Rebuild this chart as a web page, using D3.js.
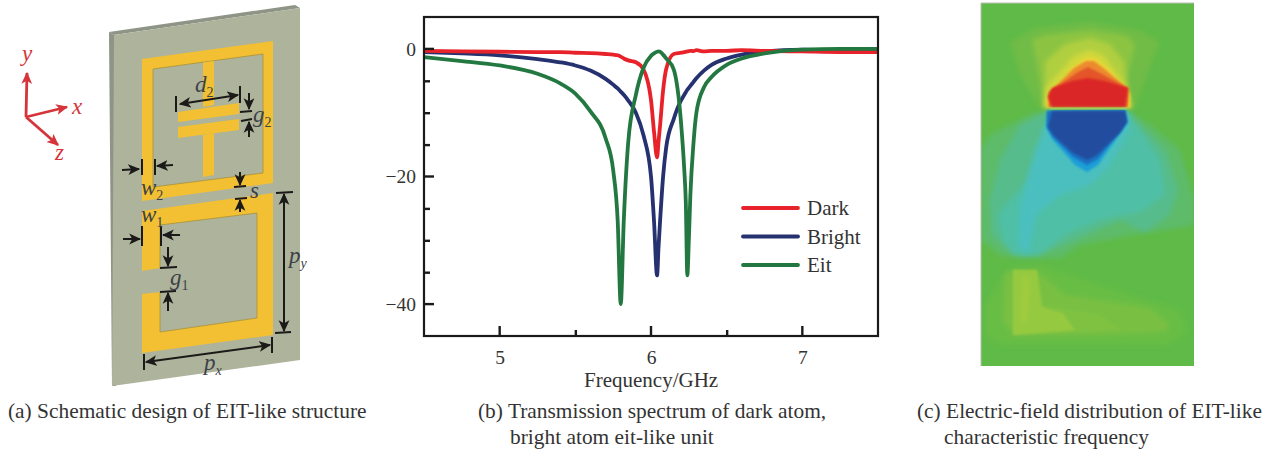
<!DOCTYPE html>
<html>
<head>
<meta charset="utf-8">
<script src="https://cdn.jsdelivr.net/npm/d3@7"></script>
<style>
  html, body { margin: 0; padding: 0; background: #fff; }
  svg { display: block; }
  text { font-family: "Liberation Serif", serif; fill: #333; }
</style>
</head>
<body>
<div id="chart"></div>
<script>
// spectrum values
const FREQ = [4.5,4.75,5,5.25,5.4,5.5,5.6,5.7,5.75,5.78,5.8,5.82,5.85,5.9,5.95,6,6.02,6.04,6.05,6.06,6.08,6.1,6.15,6.2,6.22,6.23,6.24,6.25,6.26,6.28,6.3,6.35,6.4,6.5,6.6,6.75,7,7.25,7.5]
const DARK = [-0.3,-0.4,-0.45,-0.5,-0.5,-0.6,-0.65,-0.8,-0.9,-1,-1.2,-1.5,-1.8,-2.1,-3.2,-8,-13,-17,-14.5,-12,-6.5,-3.2,-0.8,-0.6,-0.5,-0.45,-0.4,-0.35,-0.3,-0.35,-0.2,-0.4,-0.3,-0.3,-0.2,-0.3,-0.4,-0.5,-0.5]
const BRIGHT = [-0.5,-0.7,-1,-1.6,-2.1,-2.6,-3.4,-4.7,-5.6,-6.2,-6.7,-7.2,-8.1,-10,-13.5,-20,-27,-35.5,-31,-27,-20,-15.5,-11,-8,-7.2,-6.8,-6.4,-6.1,-5.8,-5.2,-4.6,-3.4,-2.5,-1.5,-0.9,-0.4,-0.1,-0.2,-0.2]
const EIT = [-1.3,-1.9,-2.6,-3.9,-5.4,-7,-9.8,-14,-19,-27,-40,-27,-14.5,-7.2,-3,-1.1,-0.7,-0.45,-0.4,-0.45,-0.9,-1.5,-3.2,-12,-19,-24,-35.5,-30,-23,-15,-10,-6,-4.4,-2.5,-1.5,-0.7,-0.1,0,0]

const LEGEND = ["Dark", "Bright", "Eit"]
const COLORS = { Dark: "#e8232a", Bright: "#27306f", Eit: "#23783f" }
const VALUES = { Dark: DARK, Bright: BRIGHT, Eit: EIT }
const DRAW_ORDER = ["Bright", "Dark", "Eit"]

const X_MAJOR = [5, 6, 7]
const X_MINOR = [5.5, 6.5]
const Y_MAJOR = [0, -20, -40]
const Y_MINOR = [-5, -10, -15, -25, -30, -35]

const width = 1278, height = 450
const margin = { top: 17, right: 400, bottom: 114, left: 424 }
const innerW = width - margin.left - margin.right
const innerH = height - margin.top - margin.bottom

const svg = d3.select("#chart").append("svg")
  .attr("width", width)
  .attr("height", height)
  .attr("viewBox", `0 0 ${width} ${height}`)

const defs = svg.append("defs")
function blur(id, amount) {
  defs.append("filter").attr("id", id)
    .attr("x", "-20%").attr("y", "-20%").attr("width", "140%").attr("height", "140%")
    .append("feGaussianBlur").attr("stdDeviation", amount)
}
blur("soft", 0.5)
blur("core", 0.9)
blur("wide", 2.6)
defs.append("clipPath").attr("id", "field")
  .append("rect").attr("x", 981).attr("y", 3).attr("width", 213).attr("height", 363)

function head(id, color) {
  defs.append("marker")
    .attr("id", id)
    .attr("viewBox", "0 0 10 10")
    .attr("refX", 9).attr("refY", 5)
    .attr("markerUnits", "userSpaceOnUse")
    .attr("markerWidth", 12).attr("markerHeight", 12)
    .attr("orient", "auto-start-reverse")
    .append("path").attr("d", "M0,0.5L10,5L0,9.5L2.5,5Z").attr("fill", color)
}
head("arrow-black", "#1c1a18")
head("arrow-red", "#d5343a")

const poly = d3.line()

// ---------- panel (a): schematic ----------
const schem = svg.append("g").attr("class", "schematic")
const art = schem.append("g").attr("filter", "url(#soft)")

function shape(pts, fill, stroke) {
  art.append("path")
    .attr("d", poly(pts) + "Z")
    .attr("fill", fill)
    .attr("stroke", stroke || "none")
    .attr("stroke-width", stroke ? 0.8 : 0)
}

const FACE = "#aeb39c", GOLD = "#f2c030", EDGE = "#a8923a"
shape([[109,32],[295,5],[300,8],[114,35]], "#8e9486")
shape([[109,32],[114,35],[116,386],[112,386]], "#8e9486")
shape([[114,35],[300,8],[300,360],[112,386]], FACE)

// upper ring with capacitor
shape([[142,59],[273,41],[273,183],[142,201]], GOLD)
shape([[153,69],[263,54],[263,173],[153,187]], FACE, EDGE)
shape([[203,62.5],[214,61],[214,105],[203,107]], GOLD)
shape([[203,135],[214,133],[214,175],[203,177]], GOLD)
shape([[178,112],[239,103],[239,114],[178,122]], GOLD)
shape([[178,127],[239,119],[239,130],[178,138]], GOLD)

// lower split ring
shape([[142,211],[273,193],[273,335],[142,353]], GOLD)
shape([[160,225],[257,213],[257,318],[160,332]], FACE, EDGE)
shape([[141,271],[161,268],[161,292],[141,294]], FACE)

const dims = schem.append("g")
function bar(x1, y1, x2, y2) {
  dims.append("line")
    .attr("x1", x1).attr("y1", y1).attr("x2", x2).attr("y2", y2)
    .attr("stroke", "#1c1a18").attr("stroke-width", 2)
}
function arrow(x1, y1, x2, y2, both) {
  const l = dims.append("line")
    .attr("x1", x1).attr("y1", y1).attr("x2", x2).attr("y2", y2)
    .attr("stroke", "#1c1a18").attr("stroke-width", 2)
    .attr("marker-end", "url(#arrow-black)")
  if (both) l.attr("marker-start", "url(#arrow-black)")
}
function sym(x, y, main, sub) {
  const t = dims.append("text")
    .attr("x", x).attr("y", y)
    .attr("font-size", 23)
    .attr("font-style", "italic")
    .style("fill", "#3c4148")
    .text(main)
  if (sub) {
    t.append("tspan")
      .attr("dy", 5).attr("font-size", 14)
      .attr("font-style", /\d/.test(sub) ? "normal" : "italic")
      .text(sub)
  }
}

bar(176,96,176,112); bar(240,86,240,103)
arrow(180,104,238,95,true)
sym(195,92,"d","2")
bar(240,112,252,111); bar(241,121,252,119)
arrow(249,93,249,109); arrow(249,137,249,122)
sym(253,122,"g","2")
bar(142,159,142,175); bar(155,159,155,175)
arrow(122,170,139,169); arrow(173,165,157,166)
sym(141,195,"w","2")
bar(234,187,246,186); bar(235,199,247,198)
arrow(240,172,240,185); arrow(240,212,240,200)
sym(250,198,"s")
bar(276,193,293,192); bar(275,333,291,332)
arrow(284,194,284,331,true)
sym(289,263,"p","y")
bar(142,226,142,246); bar(161,226,161,246)
sym(141,222,"w","1")
arrow(123,239,140,239); arrow(180,235,163,235)
bar(160,268,177,267); bar(160,292,176,291)
arrow(168,247,168,266); arrow(168,311,168,293)
sym(170,285,"g","1")
bar(144,354,144,370); bar(272,337,272,353)
arrow(146,362,270,345,true)
sym(204,370,"p","x")

// red coordinate triad
const triad = schem.append("g")
;[[26,117,27,73],[26,117,67,107],[26,117,58,145]].forEach(p => {
  triad.append("line")
    .attr("x1", p[0]).attr("y1", p[1]).attr("x2", p[2]).attr("y2", p[3])
    .attr("stroke", "#d5343a").attr("stroke-width", 2.8)
    .attr("marker-end", "url(#arrow-red)")
})
;[["y",22,61],["x",72,114],["z",55,160]].forEach(d => {
  triad.append("text")
    .attr("x", d[1]).attr("y", d[2])
    .attr("font-size", 23).attr("font-style", "italic")
    .style("fill", "#d5343a")
    .text(d[0])
})

// ---------- panel (b): spectrum ----------
const xScale = d3.scaleLinear().domain([4.5, 7.5]).range([0, innerW])
const yScale = d3.scaleLinear().domain([5, -45]).range([0, innerH])

const plot = svg.append("g")
  .attr("transform", `translate(${margin.left},${margin.top})`)

const lineGen = d3.line()
  .x(d => xScale(d[0]))
  .y(d => yScale(d[1]))
  .curve(d3.curveMonotoneX)

const lines = plot.append("g").attr("filter", "url(#soft)")
DRAW_ORDER.forEach(name => {
  lines.append("path")
    .attr("d", lineGen(FREQ.map((f, i) => [f, VALUES[name][i]])))
    .attr("fill", "none")
    .attr("stroke", COLORS[name])
    .attr("stroke-width", 3.8)
    .attr("stroke-linejoin", "round")
})

function styleAxis(g) {
  g.select(".domain").remove()
  g.selectAll("line").attr("stroke", "#1a1a1a").attr("stroke-width", 2.4)
  g.selectAll("text").attr("font-size", 19.5).style("fill", "#333")
}

plot.append("g")
  .attr("transform", `translate(0,${innerH})`)
  .call(d3.axisBottom(xScale).tickValues(X_MAJOR).tickSize(0).tickPadding(14).tickFormat(d3.format("d")))
  .call(styleAxis)
plot.append("g")
  .attr("transform", `translate(0,${innerH})`)
  .call(d3.axisBottom(xScale).tickValues(X_MINOR).tickSize(-6).tickFormat(""))
  .call(styleAxis)
plot.append("g")
  .call(d3.axisLeft(yScale).tickValues(Y_MAJOR).tickSize(0).tickPadding(8).tickFormat(d => d < 0 ? "\u2212" + (-d) : d))
  .call(styleAxis)
plot.append("g")
  .call(d3.axisLeft(yScale).tickValues(Y_MINOR).tickSize(-6).tickFormat(""))
  .call(styleAxis)

// long ticks at the labelled values
const majorTicks = plot.append("g").attr("stroke", "#1a1a1a").attr("stroke-width", 2.4)
X_MAJOR.forEach(v => {
  majorTicks.append("line")
    .attr("x1", xScale(v)).attr("x2", xScale(v))
    .attr("y1", innerH).attr("y2", innerH - 10)
})
Y_MAJOR.forEach(v => {
  majorTicks.append("line")
    .attr("x1", 0).attr("x2", 10)
    .attr("y1", yScale(v)).attr("y2", yScale(v))
})

plot.append("rect")
  .attr("width", innerW).attr("height", innerH)
  .attr("fill", "none")
  .attr("stroke", "#1a1a1a").attr("stroke-width", 2.2)

const legendY = d3.scalePoint().domain(LEGEND).range([191, 248])
const legend = plot.append("g")
const legendLines = legend.append("g").attr("filter", "url(#soft)")
LEGEND.forEach(name => {
  legendLines.append("line")
    .attr("x1", 319).attr("x2", 374)
    .attr("y1", legendY(name)).attr("y2", legendY(name))
    .attr("stroke", COLORS[name]).attr("stroke-width", 3.8)
    .attr("stroke-linecap", "round")
  legend.append("text")
    .attr("x", 383).attr("y", legendY(name) + 7)
    .attr("font-size", 21)
    .text(name)
})

plot.append("text")
  .attr("x", 160).attr("y", 370)
  .attr("font-size", 21)
  .text("Frequency/GHz")

// ---------- panel (c): field map, drawn as stacked contour bands ----------
const BANDS = [
  ["#6fbc46", "wide", [[1010,42],[1035,28],[1090,22],[1140,30],[1160,42],[1145,80],[1135,108],[1040,108],[1020,75]]],
  ["#8cc443", "wide", [[1032,40],[1045,35],[1090,30],[1128,36],[1135,45],[1125,85],[1125,108],[1045,108],[1040,80]]],
  ["#b0cf3f", "wide", [[1045,62],[1065,44],[1090,38],[1110,44],[1124,62],[1130,108],[1045,108]]],
  ["#d3d83a", "wide", [[1046,88],[1074,56],[1090,50],[1104,56],[1126,86],[1132,108],[1044,108]]],
  ["#ecd535", "core", [[1047,100],[1072,68],[1085,58],[1095,58],[1110,70],[1130,94],[1130,108],[1047,108]]],
  ["#ec8b2e", "core", [[1048,94],[1074,68],[1086,61],[1094,61],[1106,70],[1129,90],[1128,107],[1048,107]]],
  ["#e4542a", "core", [[1049,92],[1078,72],[1088,67],[1098,72],[1128,88],[1127,107],[1050,107]]],
  ["#da2727", "core", [[1052,88],[1048,97],[1052,107],[1125,107],[1128,88],[1105,81],[1088,78],[1072,81]]],

  ["#5dbb6a", "wide", [[1047,110],[1030,115],[990,135],[981,150],[981,240],[1000,255],[1020,258],[1060,258],[1080,245],[1130,235],[1165,230],[1194,225],[1194,200],[1180,150],[1150,125],[1128,110]]],
  ["#57bc8c", "wide", [[1047,112],[1020,125],[1000,160],[990,200],[992,235],[1010,252],[1025,255],[1050,250],[1075,240],[1120,220],[1145,232],[1170,215],[1178,190],[1165,150],[1140,125],[1128,112]]],
  ["#4fbfa6", "wide", [[1050,120],[1035,150],[1028,180],[1010,200],[998,215],[1003,240],[1015,255],[1040,255],[1065,235],[1100,220],[1140,212],[1150,205],[1165,195],[1160,160],[1140,130],[1128,115]]],
  ["#4cbfbf", "wide", [[1045,125],[1030,170],[1020,205],[1018,245],[1028,255],[1036,215],[1060,195],[1090,185],[1110,165],[1130,130],[1128,112]]],
  ["#1f9ed8", "core", [[1047,111],[1046,127],[1053,140],[1075,165],[1087,172],[1098,165],[1128,122],[1125,110]]],
  ["#1f6fc0", "core", [[1047,111],[1047,127],[1053,137],[1073,157],[1087,165],[1098,159],[1127,122],[1125,110]]],
  ["#234e9f", "core", [[1052,111],[1125,111],[1127,122],[1120,133],[1097,155],[1087,160],[1073,153],[1053,135],[1048,127]]],

  ["#67bd45", "wide", [[1000,280],[985,305],[985,335],[1000,345],[1100,345],[1170,345],[1188,330],[1180,310],[1130,295],[1070,275],[1040,265],[1010,268]]],
  ["#79c043", "wide", [[1005,272],[1003,320],[1012,335],[1100,335],[1165,332],[1170,325],[1150,308],[1100,300],[1065,295],[1042,275]]],
  ["#7fc242", "core", [[1013,270],[1037,270],[1042,305],[1100,315],[1122,330],[1013,335]]],
  ["#95c941", "core", [[1013,270],[1037,270],[1042,307],[1063,313],[1075,330],[1013,335]]],
  ["#a1cc3e", "wide", [[1023,277],[1030,277],[1027,320],[1020,323]]]
]

const map = svg.append("g").attr("clip-path", "url(#field)")
map.append("rect")
  .attr("x", 975).attr("y", 0).attr("width", 225).attr("height", 370)
  .attr("fill", "#5fba47")
BANDS.forEach(b => {
  map.append("path")
    .attr("d", poly(b[2]) + "Z")
    .attr("fill", b[0])
    .attr("filter", `url(#${b[1]})`)
})
map.append("rect")
  .attr("x", 1050).attr("y", 107.5).attr("width", 77).attr("height", 2)
  .attr("fill", "#9ccf5a")
svg.append("path")
  .attr("d", "M981,366V3H1194")
  .attr("fill", "none").attr("stroke", "#b9bfb6").attr("stroke-width", 1)

// ---------- captions ----------
const CAPTIONS = [
  ["(a) Schematic design of EIT-like structure", 8, 418],
  ["(b) Transmission spectrum of dark atom,", 478, 418],
  ["bright atom eit-like unit", 510, 444],
  ["(c) Electric-field distribution of EIT-like", 917, 418],
  ["characteristic frequency", 944, 444]
]
svg.append("g").selectAll("text").data(CAPTIONS).join("text")
  .attr("x", d => d[1]).attr("y", d => d[2])
  .attr("font-size", 21.4)
  .text(d => d[0])
</script>
</body>
</html>
